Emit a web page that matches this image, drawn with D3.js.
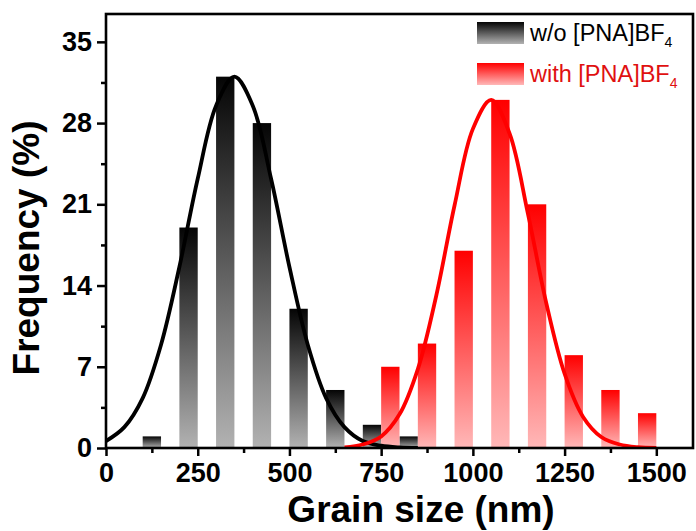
<!DOCTYPE html>
<html>
<head>
<meta charset="utf-8">
<script src="https://cdn.jsdelivr.net/npm/d3@7"></script>
<style>
	body { margin: 0; background: #fff; }
	text { font-family: Arial, "Liberation Sans", sans-serif; }
</style>
</head>
<body>
<svg id="plot" width="696" height="531"></svg>
<script>
// histogram bins: left edge of each bar (nm), bar width 50 nm
var binsWithout = [100, 200, 300, 400, 500, 600, 700, 800];
var freqWithout = [1, 19, 32, 28, 12, 5, 2, 1];
var binsWith = [750, 850, 950, 1050, 1150, 1250, 1350, 1450];
var freqWith = [7, 9, 17, 30, 21, 8, 5, 3];
var binWidth = 50;

// fitted curves
var fitWithoutX = [0, 50, 100, 150, 200, 250, 300, 350, 400, 450, 500, 550, 600, 650, 700, 750, 800, 850];
var fitWithoutY = [0.6, 1.8, 4.3, 8.9, 15.6, 23.2, 29.5, 32, 29.5, 23.2, 15.6, 8.9, 4.3, 1.8, 0.6, 0.2, 0.05, 0];
var fitWithX = [650, 700, 750, 800, 850, 900, 950, 1000, 1050, 1100, 1150, 1200, 1250, 1300, 1350, 1400, 1450, 1500];
var fitWithY = [0.05, 0.3, 1.0, 2.9, 6.8, 13.1, 20.9, 27.5, 30, 27.1, 20.2, 12.5, 6.4, 2.7, 0.95, 0.3, 0.07, 0.01];

var xTicks = [0, 250, 500, 750, 1000, 1250, 1500];
var xMinor = [125, 375, 625, 875, 1125, 1375];
var yTicks = [0, 7, 14, 21, 28, 35];
var yMinor = [3.5, 10.5, 17.5, 24.5, 31.5];

var m = {t:14, r:3, b:83, l:106},
	W = 696, H = 531,
	w = W - m.l - m.r,
	h = H - m.t - m.b;

var svg = d3.select('#plot');

var x = d3.scaleLinear().domain([0, 1600]).range([0, w]),
	y = d3.scaleLinear().domain([0, 37.4]).range([h, 0]);

var defs = svg.append('defs');

function grad(id, top, bottom) {
	var g = defs.append('linearGradient')
		.attr('id', id)
		.attr('x1', 0).attr('y1', 0)
		.attr('x2', 0).attr('y2', 1);
	g.append('stop').attr('offset', '0%').attr('stop-color', top);
	g.append('stop').attr('offset', '100%').attr('stop-color', bottom);
}
grad('gBlack', '#050505', '#b2b2b2');
grad('gRed', '#ff0000', '#ffb8b8');

defs.append('clipPath').attr('id', 'clip')
	.append('rect').attr('width', w).attr('height', h);

var g = svg.append('g')
	.attr('transform', 'translate(' + m.l + ',' + m.t + ')');

function bars(bins, vals, fill) {
	g.append('g').selectAll('rect')
		.data(vals)
		.enter()
		.append('rect')
		.attr('x', function(d, i) { return x(bins[i]); })
		.attr('y', function(d) { return y(d); })
		.attr('width', function(d, i) { return x(bins[i] + binWidth) - x(bins[i]); })
		.attr('height', function(d) { return h - y(d); })
		.attr('fill', fill);
}
bars(binsWithout, freqWithout, 'url(#gBlack)');
bars(binsWith, freqWith, 'url(#gRed)');

var line = d3.line()
	.x(function(d) { return x(d[0]); })
	.y(function(d) { return y(d[1]); })
	.curve(d3.curveCatmullRom);

var curves = g.append('g').attr('clip-path', 'url(#clip)');
curves.append('path')
	.datum(d3.zip(fitWithoutX, fitWithoutY))
	.attr('d', line)
	.attr('fill', 'none')
	.attr('stroke', '#000')
	.attr('stroke-width', 3.8);
curves.append('path')
	.datum(d3.zip(fitWithX, fitWithY))
	.attr('d', line)
	.attr('fill', 'none')
	.attr('stroke', '#f00')
	.attr('stroke-width', 3.8);

// axes
g.append('g')
	.attr('transform', 'translate(0,' + h + ')')
	.call(d3.axisBottom(x).tickValues(xTicks).tickSize(8).tickPadding(7).tickFormat(d3.format('d')));
g.append('g')
	.attr('transform', 'translate(0,' + h + ')')
	.call(d3.axisBottom(x).tickValues(xMinor).tickSize(5).tickFormat(''));
g.append('g')
	.call(d3.axisLeft(y).tickValues(yTicks).tickSize(9).tickPadding(5));
g.append('g')
	.call(d3.axisLeft(y).tickValues(yMinor).tickSize(5).tickFormat(''));

g.selectAll('.domain').remove();
g.selectAll('.tick line').attr('stroke', '#000').attr('stroke-width', 2.5);
g.selectAll('.tick text')
	.attr('fill', '#000')
	.style('font-size', '27px')
	.style('font-weight', 'bold')
	.style('font-family', 'Arial, "Liberation Sans", sans-serif');

g.append('rect')
	.attr('width', w).attr('height', h)
	.attr('fill', 'none')
	.attr('stroke', '#000')
	.attr('stroke-width', 2.6);

// axis titles
svg.append('text')
	.attr('x', 421).attr('y', 522)
	.attr('text-anchor', 'middle')
	.style('font-size', '37px').style('font-weight', 'bold')
	.text('Grain size (nm)');
svg.append('text')
	.attr('transform', 'translate(39,248) rotate(-90)')
	.attr('text-anchor', 'middle')
	.style('font-size', '37px').style('font-weight', 'bold')
	.text('Frequency (%)');

// legend
var legend = [
	{label: 'w/o [PNA]BF', fill: 'url(#gBlack)', color: '#000'},
	{label: 'with [PNA]BF', fill: 'url(#gRed)', color: '#e01010'}
];
var lg = svg.selectAll('.lg')
	.data(legend)
	.enter()
	.append('g')
	.attr('class', 'lg')
	.attr('transform', function(d, i) { return 'translate(477,' + (22 + i * 41) + ')'; });
lg.append('rect')
	.attr('width', 47).attr('height', 22)
	.attr('fill', function(d) { return d.fill; });
var lt = lg.append('text')
	.attr('x', 53).attr('y', 19)
	.attr('fill', function(d) { return d.color; })
	.style('font-size', '23.5px');
lt.append('tspan').text(function(d) { return d.label; });
lt.append('tspan').attr('dy', 6).style('font-size', '14px').text('4');
</script>
</body>
</html>
